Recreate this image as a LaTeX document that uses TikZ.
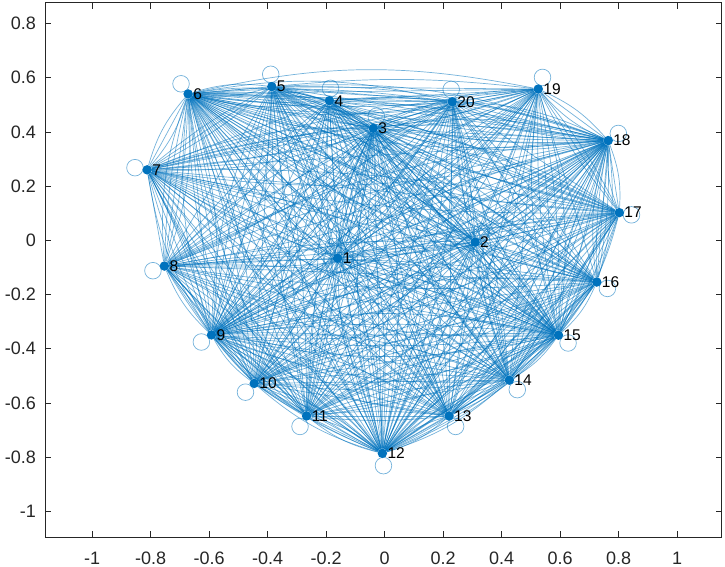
\documentclass[tikz,border=0pt]{standalone}
\usepackage{fontspec}
\setmainfont{Liberation Sans}
\usepackage{tikz}
\definecolor{mblue}{RGB}{0,114,189}
\definecolor{axgray}{RGB}{38,38,38}
\pgfdeclarelayer{bg}
\pgfsetlayers{bg,main}

\begin{document}
\begin{tikzpicture}[
  x=292.5bp, y=271bp,
  vertex/.style={
    circle,
    fill=mblue,
    inner sep=0pt,
    minimum size=9.5bp,
    label distance=5.5bp
  },
  vlabel/.style={
    inner sep=0pt,
    font=\fontsize{15.5bp}{15.5bp}\selectfont
  },
  edge/.style={draw=mblue, line width=0.7bp, opacity=0.55},
  axis/.style={draw=axgray, line width=0.6bp},
  ticklabel/.style={text=axgray, inner sep=0pt, font=\fontsize{18bp}{18bp}\selectfont}
]
\useasboundingbox (-1.3152,-1.2055) rectangle (1.1634,0.8867);

% axes
\draw[axis] (-1.160,-1.096) rectangle (1.152,0.877);
\foreach \t in {-1,-0.8,-0.6,-0.4,-0.2,0,0.2,0.4,0.6,0.8,1} {
  \draw[axis] (\t,-1.096) -- ++(0pt,6bp);
  \draw[axis] (\t,0.877) -- ++(0pt,-6bp);
  \node[ticklabel] (xt\t) at (\t,-1.174) {\t};
}
\foreach \t in {-1,-0.8,-0.6,-0.4,-0.2,0,0.2,0.4,0.6,0.8} {
  \draw[axis] (-1.160,\t) -- ++(6bp,0pt);
  \draw[axis] (1.152,\t) -- ++(-6bp,0pt);
  \node[ticklabel, anchor=east] (yt\t) at (-1.192,\t) {\t};
}

% vertices
\foreach \i/\x/\y in {
  1/-0.161/-0.066, 2/0.309/-0.007, 3/-0.039/0.413, 4/-0.189/0.515,
  5/-0.386/0.567, 6/-0.672/0.540, 7/-0.812/0.260, 8/-0.753/-0.095,
  9/-0.592/-0.349, 10/-0.446/-0.528, 11/-0.267/-0.648, 12/-0.008/-0.786,
  13/0.220/-0.648, 14/0.426/-0.516, 15/0.594/-0.350, 16/0.725/-0.154,
  17/0.802/0.102, 18/0.764/0.368, 19/0.525/0.558, 20/0.231/0.511}
  \node[vertex, label={[vlabel]right:\i}] (v\i) at (\x,\y) {};

\begin{pgfonlayer}{bg}
% edges, some pairs several times
\foreach \i in {1,...,19} {
  \pgfmathtruncatemacro\first{\i+1}
  \foreach \j in {\first,...,20} {
    \draw[edge] (v\i) -- (v\j);
    \pgfmathtruncatemacro\k{mod(\i+\j,2)}
    \ifnum\k=0
      \draw[edge] (v\i) to[bend left=6] (v\j);
      \draw[edge] (v\i) to[bend right=6] (v\j);
    \fi
    \pgfmathtruncatemacro\m{mod(\i*\j,3)}
    \ifnum\m=0
      \draw[edge] (v\i) to[bend left=12] (v\j);
      \draw[edge] (v\i) to[bend right=12] (v\j);
    \fi
  }
}

% self loops
\foreach \i/\a in {
  1/110, 2/60, 3/76, 4/85, 5/95, 6/125, 7/170, 8/202, 9/215, 10/225,
  11/238, 12/275, 13/302, 14/310, 15/321, 16/329, 17/350, 18/35, 19/70, 20/95}
  \draw[edge] (v\i) ++(\a:12.4bp) circle[radius=8.3bp];
\end{pgfonlayer}
\end{tikzpicture}
\end{document}
